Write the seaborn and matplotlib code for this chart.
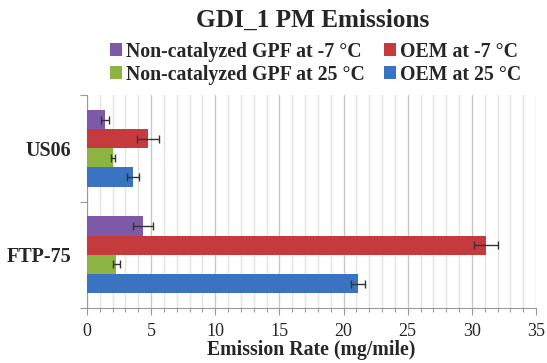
import matplotlib
matplotlib.use("Agg")
import matplotlib.pyplot as plt
from matplotlib.patches import Patch
from matplotlib.ticker import MultipleLocator, FixedLocator
import seaborn as sns
import pandas as pd

cycles = ["US06", "FTP-75"]
series = ["Non-catalyzed GPF at -7 °C", "OEM at -7 °C",
          "Non-catalyzed GPF at 25 °C", "OEM at 25 °C"]
colors = ["#7D59A8", "#C53A3C", "#8BB443", "#3A73C2"]

# values per series, in cycles order (US06, FTP-75)
gpf_m7 = [1.38, 4.36]
oem_m7 = [4.78, 31.1]
gpf_25 = [2.03, 2.30]
oem_25 = [3.59, 21.1]

gpf_m7_err = [0.30, 0.75]
oem_m7_err = [0.86, 0.90]
gpf_25_err = [0.17, 0.26]
oem_25_err = [0.48, 0.53]

vals = [gpf_m7, oem_m7, gpf_25, oem_25]
errs = [gpf_m7_err, oem_m7_err, gpf_25_err, oem_25_err]

rows = []
for s, v in zip(series, vals):
    for c, x in zip(cycles, v):
        rows.append({"cycle": c, "series": s, "rate": x})
df = pd.DataFrame(rows)

sns.set_theme(style="white")
plt.rcParams["font.family"] = ["Liberation Serif", "DejaVu Serif"]

fig = plt.figure(figsize=(5.47, 3.63), dpi=100)
ax = fig.add_axes([0.159, 0.1515, 0.821, 0.5865])

sns.barplot(data=df, y="cycle", x="rate", hue="series", order=cycles,
            hue_order=series, palette=colors, orient="h", width=0.72,
            errorbar=None, legend=False, ax=ax, saturation=1,
            edgecolor="none", zorder=3)

for cont, e in zip(ax.containers, errs):
    ys = [b.get_y() + b.get_height() / 2 for b in cont]
    xs = [b.get_width() for b in cont]
    ax.errorbar(xs, ys, xerr=e, fmt="none", ecolor="#333333",
                elinewidth=1.0, capsize=3, capthick=1.0, zorder=4)

ax.set_xlim(0, 35)
ax.set_ylim(1.5, -0.5)
ax.xaxis.set_major_locator(MultipleLocator(5))
ax.xaxis.set_minor_locator(MultipleLocator(1))
ax.grid(axis="x", which="minor", color="#e2e2e2", linewidth=1.0, zorder=0)
ax.grid(axis="x", which="major", color="#c8c8c8", linewidth=1.0, zorder=0)
ax.set_axisbelow(True)
ax.yaxis.set_minor_locator(FixedLocator([-0.5, 0.5, 1.5]))
ax.tick_params(axis="x", which="major", direction="out", length=5,
               color="#999999", width=0.8, labelsize=13, pad=5.5, bottom=True)
ax.tick_params(axis="x", which="minor", direction="out", length=3,
               color="#999999", width=0.8, bottom=True)
ax.tick_params(axis="y", which="major", length=0, labelsize=14.5, pad=11.5)
ax.tick_params(axis="y", which="minor", direction="out", length=5,
               color="#999999", width=0.8, left=True)
for lab in ax.get_yticklabels():
    lab.set_fontweight("bold")
for sp in ["top", "right"]:
    ax.spines[sp].set_visible(False)
for sp in ["left", "bottom"]:
    ax.spines[sp].set_color("#999999")
    ax.spines[sp].set_linewidth(0.8)

ax.set_ylabel("")
ax.set_xlabel("Emission Rate (mg/mile)", fontsize=14.2, fontweight="bold",
              labelpad=0)

fig.text(0.572, 0.943, "GDI_1 PM Emissions", ha="center", va="center",
         fontsize=18.2, fontweight="bold")

# column-major fill: col 1 = GPF rows, col 2 = OEM rows
leg_idx = [0, 2, 1, 3]
handles = [Patch(facecolor=colors[i], edgecolor="none") for i in leg_idx]
labels = [series[i] for i in leg_idx]
fig.legend(handles, labels, ncol=2, loc="center",
           bbox_to_anchor=(0.577, 0.826), frameon=False,
           prop={"weight": "bold", "size": 14.3}, handlelength=0.6,
           handleheight=0.6, handletextpad=0.2, columnspacing=1.0,
           labelspacing=0.15, borderpad=0)

fig.savefig("out.png", dpi=100)
